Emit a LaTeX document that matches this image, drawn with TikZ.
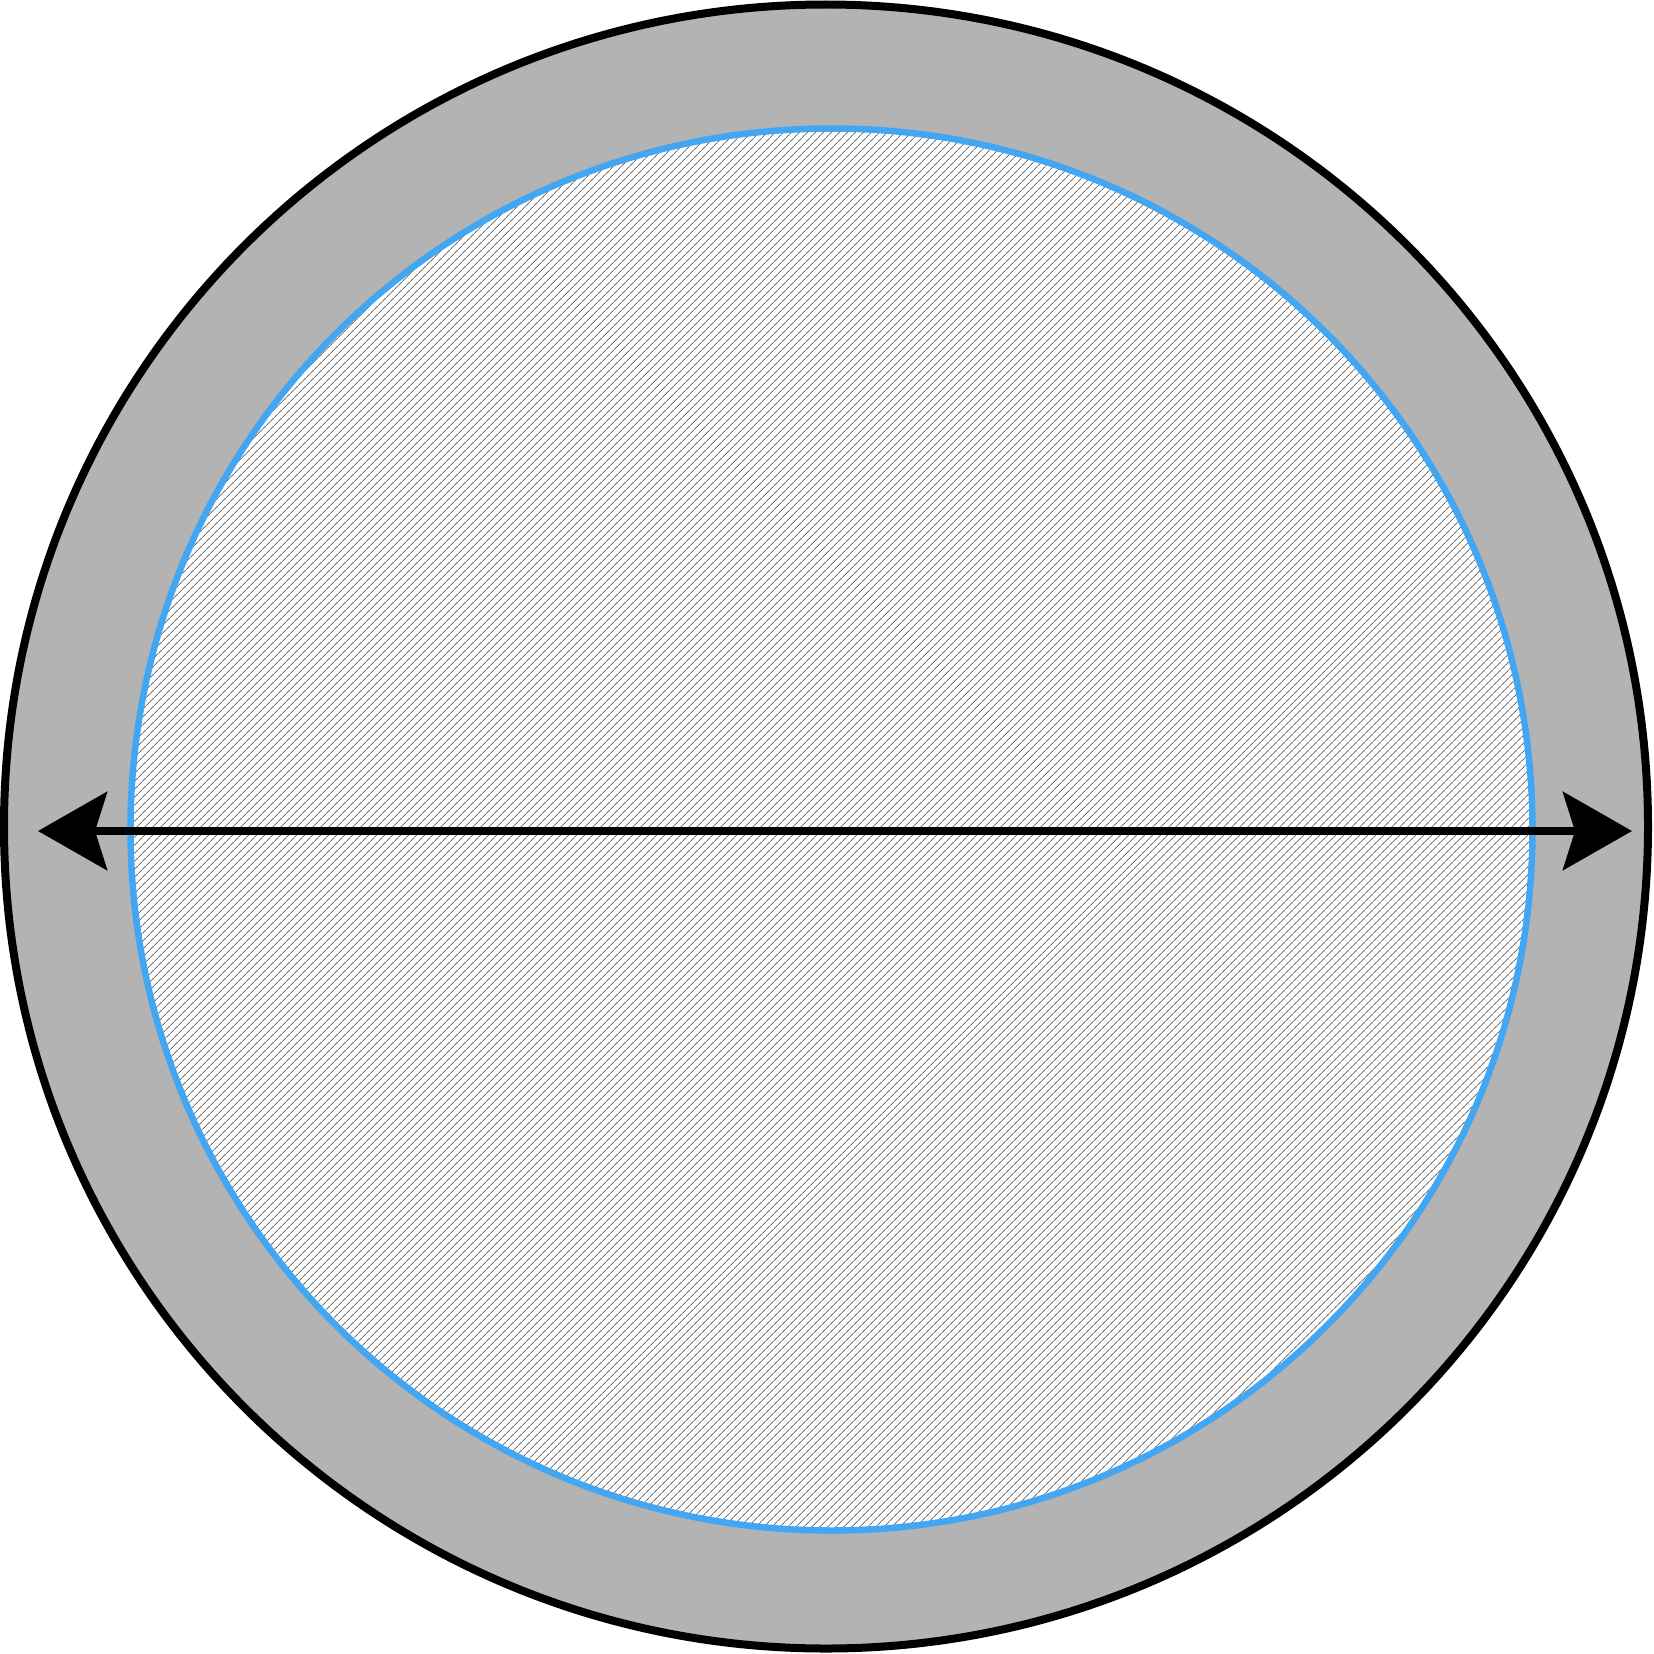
\documentclass[tikz,border=0pt]{standalone}
\usetikzlibrary{patterns.meta,arrows.meta}
\definecolor{ringgray}{HTML}{B3B3B3}
\definecolor{rimblue}{HTML}{42A6F2}
\definecolor{hatchgray}{HTML}{6E6E6E}
\begin{document}
\begin{tikzpicture}[x=1pt,y=-1pt,
  outerring/.style={fill=ringgray,draw=black,line width=8pt},
  innerdisc/.style={pattern={Lines[angle=45,distance=5.4pt,line width=0.9pt]},pattern color=hatchgray},
  innerrim/.style={draw=rimblue,line width=6.5pt},
  diam/.style={line width=8.5pt,{Stealth[length=69pt,width=78pt,inset=12pt]}-{Stealth[length=69pt,width=78pt,inset=12pt]}}]
\useasboundingbox (0,0) rectangle (1654,1654);
\coordinate (O) at (826,826.5);
\coordinate (I) at (831.5,829.5);
\coordinate (L) at (38,831);
\coordinate (R) at (1632,831);
\path[outerring] (O) circle[radius=822];
\fill[white] (I) circle[radius=701];
\path[innerdisc] (I) circle[radius=701];
\path[innerrim] (I) circle[radius=701];
\draw[diam] (L) -- (R);
\end{tikzpicture}
\end{document}
